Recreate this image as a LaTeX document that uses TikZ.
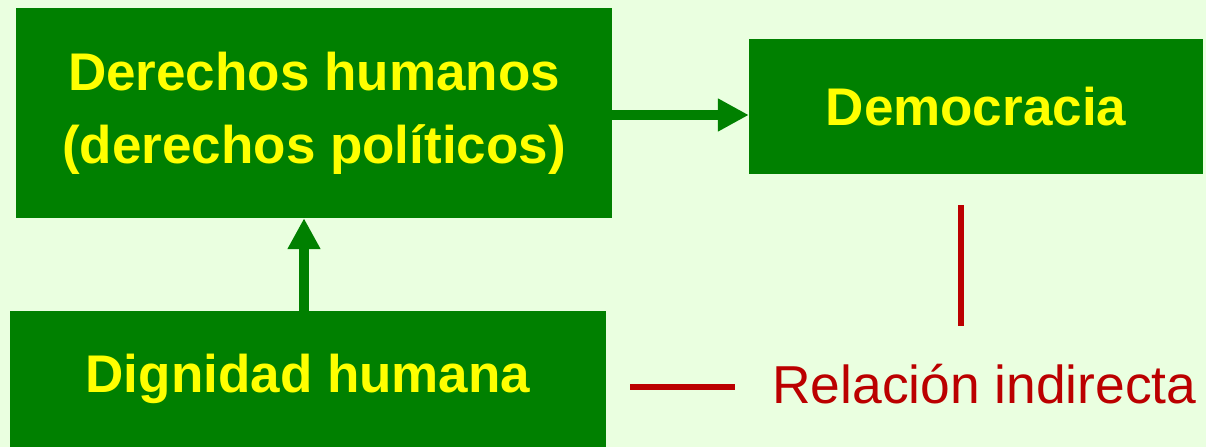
\documentclass[tikz,border=0pt]{standalone}
\usepackage{fontspec}
\setmainfont{Liberation Sans}
\usepackage{tikz}
\usetikzlibrary{positioning, arrows.meta, calc}
\definecolor{bgGreen}{HTML}{EAFFE0}
\definecolor{boxGreen}{HTML}{008000}
\definecolor{txtYellow}{HTML}{FFFF00}
\definecolor{relRed}{HTML}{BB0000}

\begin{document}
\begin{tikzpicture}[x=1pt,y=-1pt,>={Triangle[length=31pt,width=31pt]},
                box/.style={fill=boxGreen,draw=none,text=txtYellow,align=center,
                inner sep=0pt,font=\bfseries\fontsize{53}{73}\selectfont},
                link/.style={draw=boxGreen,line width=10pt},
                rel/.style={draw=relRed,line width=6pt}]
                \fill[bgGreen] (0,0) rectangle (1206,447);
                \useasboundingbox (0,0) rectangle (1206,447);
                \node[box,minimum width=596pt,minimum height=210pt] (derechos) at (314,113)
                {Derechos humanos\\(derechos políticos)};
                \node[box,minimum width=454pt,minimum height=135pt] (democracia) at (976,106.5)
                {Democracia};
                \node[box,minimum width=596pt,minimum height=136pt] (dignidad) at (308,379)
                {Dignidad humana};
                \draw[link,->] (dignidad.north -| 304,0) -- (derechos.south -| 304,0);
                \draw[link,->] (derechos.east |- 0,115) -- (democracia.west |- 0,115);
                % relacion indirecta
                \node[text=relRed,anchor=west,inner sep=0pt,font=\fontsize{53.4}{60}\selectfont]
                (leyenda) at (772,384) {Relación indirecta};
                \coordinate (relTop) at (961,205);
                \coordinate (relBot) at (961,326);
                \coordinate (legL) at (630,387);
                \draw[rel] (relTop) -- (relBot);
                \draw[rel] (legL) -- (legL -| 735,0);
            \end{tikzpicture}
\end{document}
